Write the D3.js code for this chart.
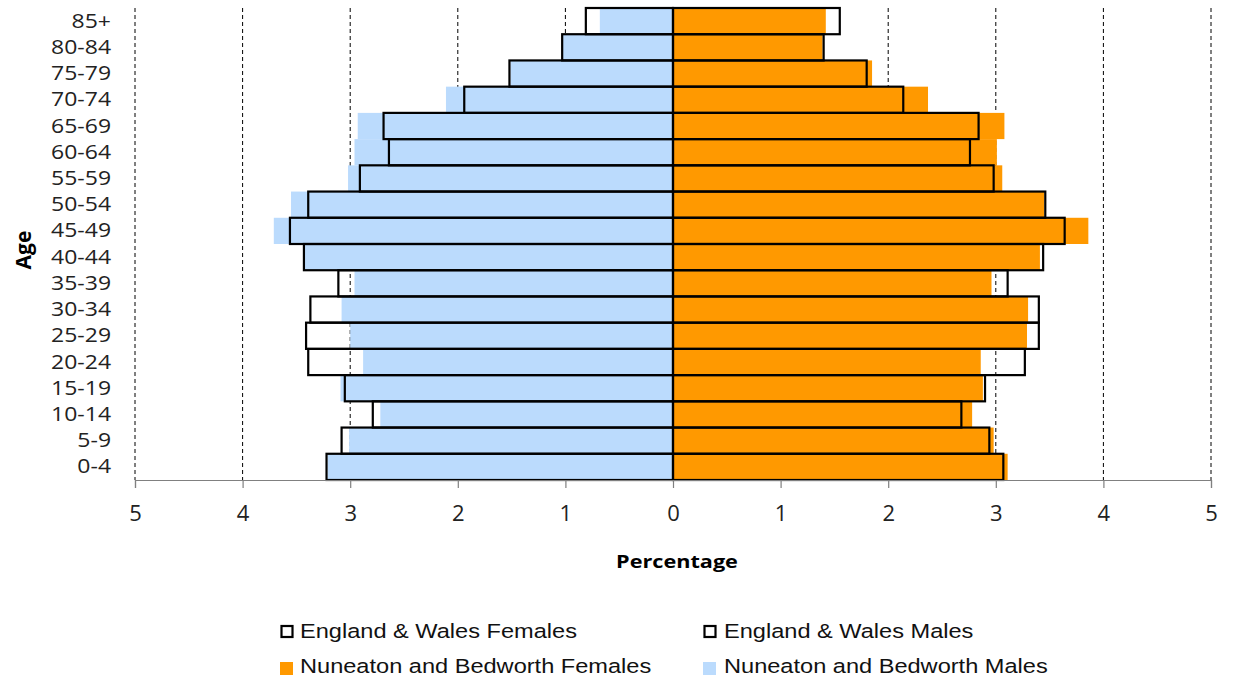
<!DOCTYPE html>
<html>
<head>
<meta charset="utf-8">
<script src="https://cdn.jsdelivr.net/npm/d3@7"></script>
<style>
  html, body { margin: 0; padding: 0; background: #fff; }
  svg { display: block; }
</style>
</head>
<body>
<svg id="chart" width="1239" height="682"></svg>
<script>
const ageGroups = ["85+","80-84","75-79","70-74","65-69","60-64","55-59","50-54","45-49","40-44","35-39","30-34","25-29","20-24","15-19","10-14","5-9","0-4"];
const nbMales   = [0.68,1.03,1.51,2.11,2.93,2.96,3.02,3.55,3.71,3.42,2.96,3.08,3.00,2.88,3.09,2.72,3.01,3.21];
const ewMales   = [0.81,1.03,1.52,1.94,2.69,2.64,2.91,3.39,3.56,3.43,3.11,3.37,3.41,3.39,3.05,2.79,3.08,3.22];
const nbFemales = [1.42,1.39,1.85,2.37,3.08,3.01,3.06,3.45,3.86,3.41,2.96,3.30,3.29,2.86,2.88,2.78,2.98,3.11];
const ewFemales = [1.55,1.40,1.80,2.14,2.84,2.76,2.98,3.46,3.64,3.44,3.11,3.40,3.40,3.27,2.90,2.68,2.94,3.07];
const xTicks = [-5,-4,-3,-2,-1,0,1,2,3,4,5];
const legendItems = [
  {label: "England & Wales Females", kind: "outline"},
  {label: "England & Wales Males", kind: "outline"},
  {label: "Nuneaton and Bedworth Females", kind: "female"},
  {label: "Nuneaton and Bedworth Males", kind: "male"}
];

const colMale = "#BBDBFD";
const colFemale = "#FF9900";
const labelFont = "Open Sans, Liberation Sans, sans-serif";

function stretch(sel, k) {
  sel.each(function() {
    const w = this.getComputedTextLength();
    d3.select(this).attr("textLength", w * k).attr("lengthAdjust", "spacingAndGlyphs");
  });
}

const svg = d3.select("#chart");
const x = d3.scaleLinear().domain([-5, 5]).range([135, 1211]);
const y = d3.scaleBand().domain(ageGroups).range([8, 480]).padding(0);

// gridlines
svg.append("g").selectAll("line").data(xTicks.filter(d => d !== 0)).join("line")
  .attr("x1", d => x(d)).attr("x2", d => x(d))
  .attr("y1", 8).attr("y2", 480)
  .attr("stroke", "#000").attr("stroke-width", 1).attr("stroke-dasharray", "4,3");

// NB bars
const bars = svg.append("g");
bars.selectAll("rect.m").data(ageGroups).join("rect").attr("class","m")
  .attr("x", (d,i) => x(-nbMales[i])).attr("width", (d,i) => x(0) - x(-nbMales[i]))
  .attr("y", d => y(d)).attr("height", y.bandwidth())
  .attr("fill", colMale);
bars.selectAll("rect.f").data(ageGroups).join("rect").attr("class","f")
  .attr("x", x(0)).attr("width", (d,i) => x(nbFemales[i]) - x(0))
  .attr("y", d => y(d)).attr("height", y.bandwidth())
  .attr("fill", colFemale);

// EW outlines
const outl = svg.append("g");
outl.selectAll("rect.em").data(ageGroups).join("rect").attr("class","em")
  .attr("x", (d,i) => x(-ewMales[i])).attr("width", (d,i) => x(0) - x(-ewMales[i]))
  .attr("y", d => y(d)).attr("height", y.bandwidth())
  .attr("fill", "none").attr("stroke", "#000").attr("stroke-width", 2.2);
outl.selectAll("rect.ef").data(ageGroups).join("rect").attr("class","ef")
  .attr("x", x(0)).attr("width", (d,i) => x(ewFemales[i]) - x(0))
  .attr("y", d => y(d)).attr("height", y.bandwidth())
  .attr("fill", "none").attr("stroke", "#000").attr("stroke-width", 2.2);

// X axis
const xAxis = d3.axisBottom(x).tickValues(xTicks).tickFormat(d => Math.abs(d)).tickSize(8).tickPadding(17);
const gx = svg.append("g").attr("transform", "translate(0,480)").call(xAxis);
gx.select(".domain").attr("stroke", "#808080").attr("stroke-width", 1.2);
gx.selectAll(".tick line").attr("stroke", "#808080").attr("stroke-width", 1.2);
gx.selectAll("text").attr("font-family", labelFont).attr("font-size", 22).attr("fill", "#222");

// Y axis labels
const yAxis = d3.axisLeft(y).tickSize(0).tickPadding(0);
const gy = svg.append("g").attr("transform", "translate(111,0)").call(yAxis);
gy.select(".domain").remove();
gy.selectAll("text").attr("font-family", labelFont).attr("font-size", 20.5).attr("fill", "#222");
stretch(gy.selectAll("text"), 1.12);

// axis titles
const pt = svg.append("text").attr("x", 677).attr("y", 568).attr("text-anchor", "middle")
  .attr("font-family", labelFont).attr("font-weight", "bold").attr("font-size", 18.5).text("Percentage");
stretch(pt, 1.17);
svg.append("text").attr("transform", "translate(31,250) rotate(-90)").attr("text-anchor", "middle")
  .attr("font-family", labelFont).attr("font-weight", "bold").attr("font-size", 21).text("Age");

// legend
const legPos = [[280, 638], [703, 638], [280, 673], [703, 673]];
const lg = svg.append("g");
legendItems.forEach((it, i) => {
  const [lx, ly] = legPos[i];
  const g = lg.append("g").attr("transform", `translate(${lx},${ly})`);
  if (it.kind === "outline") {
    g.append("rect").attr("x", 1.5).attr("y", -12).attr("width", 11).attr("height", 11)
      .attr("fill", "#fff").attr("stroke", "#000").attr("stroke-width", 2.2);
  } else {
    g.append("rect").attr("x", 0).attr("y", -11).attr("width", 13).attr("height", 13)
      .attr("fill", it.kind === "female" ? colFemale : colMale);
  }
  const t = g.append("text").attr("x", i % 2 === 0 ? 20 : 21).attr("y", 0)
    .attr("font-family", "Liberation Sans, Arial, sans-serif").attr("font-size", 20.5).attr("fill", "#111")
    .text(it.label);
  stretch(t, 1.15);
});
</script>
</body>
</html>
